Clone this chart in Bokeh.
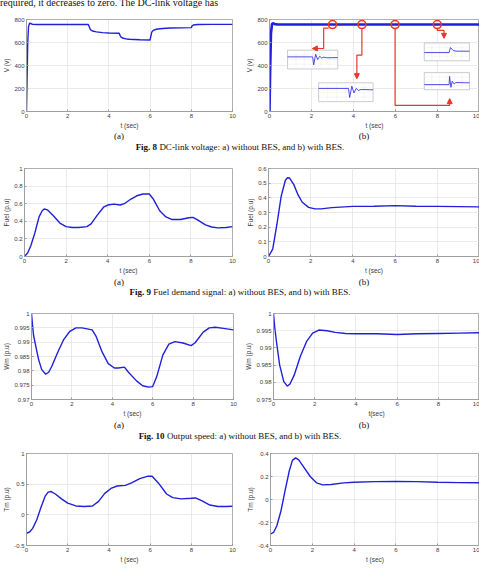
from bokeh.plotting import figure
from bokeh.layouts import column, row
from bokeh.models import Div, FixedTicker, Range1d, Arrow, NormalHead
from bokeh.embed import file_html
from bokeh.resources import INLINE

# ---------------- data ----------------
t_ticks = [0, 2, 4, 6, 8, 10]
t_labels = ["0", "2", "4", "6", "8", "10"]

# Fig 8 DC-link voltage
v_ticks = [0, 200, 400, 600, 800]
v_labels = ["0", "200", "400", "600", "800"]
va_t = [0, 0.03, 0.06, 0.1, 0.15, 0.2, 0.3, 0.5, 1.5, 3.0, 3.05, 3.1, 3.2, 3.4, 3.7, 4.0, 4.5,
        4.55, 4.6, 4.7, 4.85, 5.0, 5.5, 6.0, 6.03, 6.08, 6.15, 6.3, 6.6, 7.0, 8.0, 8.03, 8.1, 8.3, 9.0, 10.0]
va_v = [0, 300, 600, 740, 768, 765, 758, 757, 757, 757, 735, 712, 700, 692, 686, 683, 680,
        660, 645, 637, 631, 628, 624, 622, 650, 690, 705, 715, 722, 726, 729, 742, 752, 756, 758, 758]
vb_t = [0, 0.03, 0.07, 0.12, 0.17, 0.25, 0.4, 1.0, 3.0, 4.5, 6.0, 8.0, 10.0]
vb_v = [0, 350, 680, 760, 768, 760, 756, 756, 756, 756, 756, 756, 756]

# Fig 9 fuel demand
fa_ticks = [0, 0.2, 0.4, 0.6, 0.8, 1]
fa_labels = ["0", "0.2", "0.4", "0.6", "0.8", "1"]
fb_ticks = [0, 0.1, 0.2, 0.3, 0.4, 0.5, 0.6]
fb_labels = ["0", "0.1", "0.2", "0.3", "0.4", "0.5", "0.6"]
fa_t = [0, 0.15, 0.3, 0.5, 0.7, 0.85, 0.95, 1.1, 1.4, 1.7, 2.0, 2.3, 2.6, 3.0, 3.2, 3.5, 3.8, 4.0, 4.3,
        4.6, 4.8, 5.1, 5.4, 5.7, 6.0, 6.2, 6.5, 6.8, 7.1, 7.5, 7.9, 8.1, 8.3, 8.7, 9.0, 9.3, 9.7, 10.0]
fa_v = [0, 0.04, 0.12, 0.27, 0.45, 0.52, 0.54, 0.53, 0.46, 0.38, 0.34, 0.33, 0.33, 0.34, 0.37, 0.47,
        0.56, 0.585, 0.595, 0.585, 0.6, 0.65, 0.69, 0.71, 0.71, 0.65, 0.52, 0.45, 0.42, 0.42, 0.44,
        0.445, 0.42, 0.36, 0.335, 0.325, 0.33, 0.34]
fb_t = [0, 0.2, 0.4, 0.6, 0.8, 0.9, 1.0, 1.2, 1.4, 1.6, 1.9, 2.2, 2.5, 3.0, 4.0, 5.0, 6.0, 7.0, 8.0, 9.0, 10.0]
fb_v = [0, 0.05, 0.22, 0.41, 0.52, 0.537, 0.535, 0.49, 0.42, 0.37, 0.335, 0.325, 0.325, 0.333,
        0.342, 0.343, 0.347, 0.343, 0.342, 0.34, 0.338]

# Fig 10 output speed
wa_ticks = [0.97, 0.975, 0.98, 0.985, 0.99, 0.995, 1]
wa_labels = ["0.97", "0.975", "0.98", "0.985", "0.99", "0.995", "1"]
wb_ticks = [0.975, 0.98, 0.985, 0.99, 0.995, 1]
wb_labels = ["0.975", "0.98", "0.985", "0.99", "0.995", "1"]
wa_t = [0, 0.05, 0.1, 0.2, 0.35, 0.5, 0.7, 0.85, 1.0, 1.3, 1.6, 1.9, 2.2, 2.5, 3.0, 3.2, 3.5, 3.8,
        4.1, 4.3, 4.6, 4.8, 5.2, 5.5, 5.8, 6.0, 6.2, 6.5, 6.8, 7.1, 7.5, 7.9, 8.1, 8.5, 8.8, 9.1, 9.5, 10.0]
wa_v = [1.0, 0.996, 0.9925, 0.989, 0.984, 0.9805, 0.9788, 0.9795, 0.9815, 0.9865, 0.991, 0.9938,
        0.995, 0.995, 0.9943, 0.992, 0.9865, 0.9825, 0.981, 0.981, 0.9813, 0.9795, 0.9765, 0.9748,
        0.9743, 0.9745, 0.978, 0.9855, 0.9893, 0.9902, 0.9897, 0.9888, 0.9898, 0.9935, 0.995,
        0.9952, 0.9948, 0.9943]
wb_t = [0, 0.05, 0.15, 0.3, 0.5, 0.67, 0.8, 1.0, 1.3, 1.6, 1.9, 2.2, 2.6, 3.0, 3.5, 4.0, 5.0, 6.0,
        7.0, 8.0, 9.0, 10.0]
wb_v = [1.0, 0.9965, 0.9915, 0.985, 0.9802, 0.9789, 0.9795, 0.982, 0.9875, 0.9918, 0.9943, 0.9952,
        0.995, 0.9945, 0.9942, 0.9941, 0.9941, 0.9939, 0.9941, 0.9942, 0.9943, 0.9944]

# Fig 11 mechanical torque
ta_ticks = [-0.5, 0, 0.5, 1]
ta_labels = ["-0.5", "0", "0.5", "1"]
tb_ticks = [-0.4, -0.2, 0, 0.2, 0.4]
tb_labels = ["-0.4", "-0.2", "0", "0.2", "0.4"]
ta_t = [0, 0.15, 0.3, 0.5, 0.7, 0.9, 1.05, 1.2, 1.4, 1.7, 2.0, 2.4, 2.8, 3.2, 3.5, 3.8, 4.1, 4.4,
        4.8, 5.1, 5.5, 5.9, 6.1, 6.4, 6.8, 7.1, 7.5, 8.0, 8.2, 8.5, 8.9, 9.3, 9.7, 10.0]
ta_v = [-0.3, -0.28, -0.22, -0.08, 0.12, 0.3, 0.37, 0.38, 0.34, 0.26, 0.19, 0.145, 0.135, 0.145,
        0.22, 0.35, 0.43, 0.47, 0.48, 0.52, 0.59, 0.63, 0.63, 0.52, 0.34, 0.28, 0.26, 0.27, 0.275,
        0.23, 0.16, 0.135, 0.135, 0.14]
tb_t = [0, 0.15, 0.3, 0.5, 0.7, 0.9, 1.05, 1.2, 1.35, 1.6, 1.9, 2.2, 2.5, 2.9, 3.5, 4.0, 5.0, 6.0,
        7.0, 8.0, 9.0, 10.0]
tb_v = [-0.3, -0.285, -0.23, -0.1, 0.08, 0.25, 0.34, 0.362, 0.345, 0.28, 0.2, 0.145, 0.127, 0.13,
        0.145, 0.15, 0.155, 0.158, 0.155, 0.15, 0.147, 0.145]

# zoomed event markers on Fig 8(b)
event_t = [3.0, 4.4, 5.98, 7.99]
event_v = [756, 756, 756, 756]

# inset traces (local coordinates 0..1 inside each inset)
inset1_u = [0, 0.5, 0.52, 0.56, 0.6, 0.64, 0.68, 0.72, 0.78, 1.0]
inset1_w = [0.68, 0.68, 0.15, 0.85, 0.5, 0.72, 0.6, 0.66, 0.62, 0.63]
inset2_u = [0, 0.55, 0.57, 0.61, 0.65, 0.69, 0.73, 0.78, 1.0]
inset2_w = [0.75, 0.75, 0.15, 0.9, 0.45, 0.75, 0.62, 0.68, 0.66]
inset3_u = [0, 0.55, 0.58, 0.64, 0.7, 1.0]
inset3_w = [0.45, 0.45, 0.8, 0.6, 0.55, 0.55]
inset4_u = [0, 0.55, 0.56, 0.59, 0.62, 0.66, 0.7, 1.0]
inset4_w = [0.25, 0.25, 0.85, 0.05, 0.5, 0.3, 0.4, 0.38]

# ---------------- style ----------------
BLUE = "#2020d8"
RED = "#e8362e"
FRAME = "#9a9a9a"
GRID = "#e4e4e4"
TXT = "#3c3c3c"
SANS = "Liberation Sans"
SERIF = "Liberation Serif"


def keyed(ticks, labels):
    return {(int(t) if float(t) == int(t) else float(t)): l for t, l in zip(ticks, labels)}


def panel(width, height, bl, br, bt, bb, yr, yticks, ylabels, ylabel, xlabel="t (sec)"):
    p = figure(width=width, height=height, output_backend="svg", toolbar_location=None,
               x_range=Range1d(0, 10), y_range=Range1d(*yr),
               min_border_left=bl, min_border_right=br, min_border_top=bt, min_border_bottom=bb)
    p.background_fill_color = "white"
    p.border_fill_color = "white"
    p.outline_line_color = FRAME
    p.outline_line_width = 0.8
    for ax, ticks, labels, lab in ((p.xaxis[0], t_ticks, t_labels, xlabel),
                                   (p.yaxis[0], yticks, ylabels, ylabel)):
        ax.ticker = FixedTicker(ticks=ticks)
        ax.major_label_overrides = keyed(ticks, labels)
        ax.minor_tick_line_color = None
        ax.major_tick_in = 2
        ax.major_tick_out = 0
        ax.major_tick_line_color = FRAME
        ax.axis_line_color = FRAME
        ax.axis_line_width = 0.8
        ax.major_label_text_font = SANS
        ax.major_label_text_font_size = "6px"
        ax.major_label_text_color = TXT
        ax.major_label_standoff = 2
        ax.axis_label = lab
        ax.axis_label_text_font = SANS
        ax.axis_label_text_font_size = "6.5px"
        ax.axis_label_text_font_style = "normal"
        ax.axis_label_text_color = TXT
        ax.axis_label_standoff = 1
    p.grid.grid_line_color = GRID
    p.grid.grid_line_width = 0.8
    return p


# Row 1: DC-link voltage
p8a = panel(240, 123, 22, 8, 11, 19, (0, 800), v_ticks, v_labels, "V (v)")
p8a.line(va_t, va_v, line_color=BLUE, line_width=1.4)

p8b = panel(239, 123, 29, 0, 11, 19, (0, 800), v_ticks, v_labels, "V (v)")
inset_boxes = [(0.86, 3.25, 370, 533), (2.34, 4.93, 86, 249.5),
               (7.37, 9.52, 441, 596), (7.37, 9.52, 189, 338)]
inset_traces = [(inset1_u, inset1_w), (inset2_u, inset2_w), (inset3_u, inset3_w), (inset4_u, inset4_w)]
for (x0, x1, y0, y1), (uu, ww) in zip(inset_boxes, inset_traces):
    p8b.quad(left=x0, right=x1, bottom=y0, top=y1, fill_color="white", line_color="#a8a8a8", line_width=0.6)
    gx = [[x0 + (x1 - x0) * k / 6, x0 + (x1 - x0) * k / 6] for k in range(1, 6)]
    gy = [[y0, y1]] * 5
    hx = [[x0, x1]] * 3
    hy = [[y0 + (y1 - y0) * k / 4] * 2 for k in range(1, 4)]
    p8b.multi_line(gx + hx, gy + hy, line_color="#ececec", line_width=0.5)
    p8b.line([x0 + (x1 - x0) * u for u in uu], [y0 + (y1 - y0) * (0.1 + 0.8 * w) for w in ww],
             line_color="#3a3ae0", line_width=0.9)

# connectors (annotation paths in data units)
conn_paths = [
    ([2.82, 2.58, 2.58, 2.2], [725, 725, 548, 548]),
    ([4.40, 4.40, 4.16, 4.16], [718, 490, 490, 310]),
    ([5.98, 5.98, 8.58, 8.58], [718, 54, 54, 86]),
    ([7.99, 7.99, 8.31, 8.31], [718, 705, 705, 662]),
]
arrow_ends = [(2.2, 548, 2.04, 548), (4.16, 310, 4.16, 285), (8.58, 86, 8.58, 112), (8.31, 662, 8.31, 636)]
for xs, ys in conn_paths:
    p8b.line(xs, ys, line_color=RED, line_width=1.2)
for xs, ys, xe, ye in arrow_ends:
    p8b.add_layout(Arrow(x_start=xs, y_start=ys, x_end=xe, y_end=ye, line_color=RED, line_width=1.2,
                         end=NormalHead(size=5, fill_color=RED, line_color=RED)))
p8b.line(vb_t, vb_v, line_color=BLUE, line_width=2.6)
p8b.scatter(event_t, event_v, marker="circle", size=8, fill_color=None, line_color=RED, line_width=1.6)

# Row 2: fuel
p9a = panel(240, 124, 23, 8, 16, 18, (0, 1), fa_ticks, fa_labels, "Fuel (p.u)")
p9a.line(fa_t, fa_v, line_color=BLUE, line_width=1.4)
p9b = panel(239, 124, 28, 0, 16, 18, (0, 0.6), fb_ticks, fb_labels, "Fuel (p.u)")
p9b.line(fb_t, fb_v, line_color=BLUE, line_width=1.4)

# Row 3: speed
p10a = panel(240, 122, 27, 7, 16, 19, (0.97, 1), wa_ticks, wa_labels, "Wm (p.u)")
p10a.line(wa_t, wa_v, line_color=BLUE, line_width=1.4)
p10b = panel(239, 122, 33, 0, 16, 19, (0.975, 1), wb_ticks, wb_labels, "Wm (p.u)", xlabel="t(sec)")
p10b.line(wb_t, wb_v, line_color=BLUE, line_width=1.4)

# Row 4: torque
p11a = panel(240, 125, 24, 8, 13, 19, (-0.5, 1), ta_ticks, ta_labels, "Tm (p.u)")
p11a.line(ta_t, ta_v, line_color=BLUE, line_width=1.4)
p11b = panel(239, 125, 30, 0, 13, 19, (-0.4, 0.4), tb_ticks, tb_labels, "Tm (p.u)")
p11b.line(tb_t, tb_v, line_color=BLUE, line_width=1.4)


def span(x, y, txt, size="9px", anchor="-50%,-50%"):
    return (f'<span style="position:absolute;left:{x}px;top:{y}px;transform:translate({anchor});'
            f'font-size:{size};white-space:nowrap;line-height:1;">{txt}</span>')


def cap_div(h, ya, yc, num, text):
    inner = span(119, ya, "(a)") + span(364, ya, "(b)")
    if num:
        inner += span(240, yc, f"<b>Fig. {num}</b> {text}")
    html = (f'<div style="position:relative;width:479px;height:{h}px;font-family:\'{SERIF}\',serif;'
            f'color:#111;">{inner}</div>')
    return Div(text=html, width=479, height=h, margin=0)


top_html = (f'<div style="position:relative;width:479px;height:8px;font-family:\'{SERIF}\',serif;color:#111;">'
            + span(0, -6, "required, it decreases to zero. The DC-link voltage has", size="10px", anchor="0,0")
            + '</div>')
top = Div(text=top_html, width=479, height=8, margin=0)

cap8 = cap_div(21, 5, 16, "8", "DC-link voltage: a) without BES, and b) with BES.")
cap9 = cap_div(21, 6, 16, "9", "Fuel demand signal: a) without BES, and b) with BES.")
cap10 = cap_div(21, 6, 17, "10", "Output speed: a) without BES, and b) with BES.")
cap11 = cap_div(6, 4, 0, "", "")

layout = column(top,
                row(p8a, p8b, spacing=0), cap8,
                row(p9a, p9b, spacing=0), cap9,
                row(p10a, p10b, spacing=0), cap10,
                row(p11a, p11b, spacing=0), cap11,
                spacing=0)

open("out.html", "w").write(file_html(layout, INLINE))
